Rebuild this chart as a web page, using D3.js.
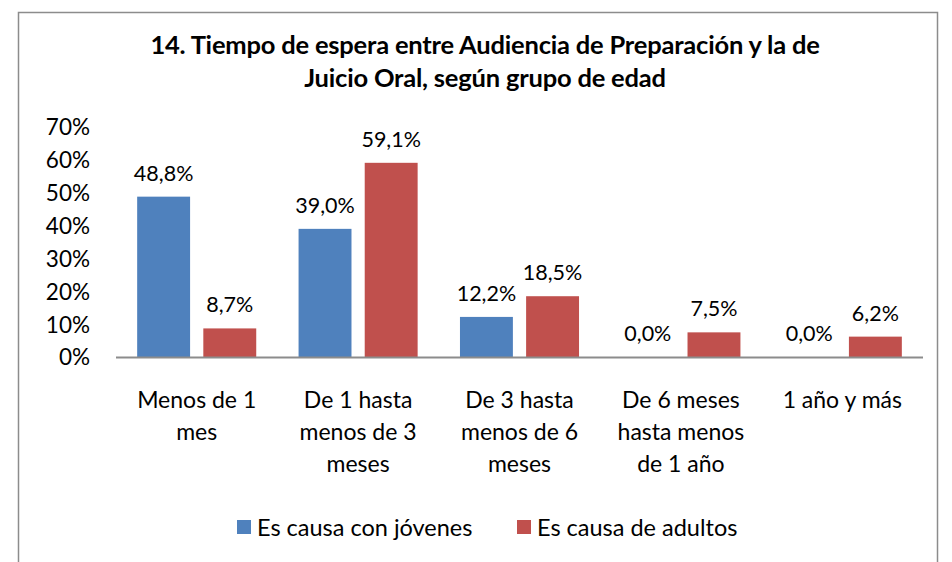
<!DOCTYPE html>
<html><head><meta charset="utf-8">
<script src="https://cdn.jsdelivr.net/npm/d3@7"></script>
<style>body{margin:0;background:#fff}svg{display:block}text{font-family:Lato,"Open Sans",sans-serif;fill:#000}</style>
</head><body><svg id="c" width="952" height="562"></svg>
<script>
const categories = [["Menos de 1","mes"],["De 1 hasta","menos de 3","meses"],["De 3 hasta","menos de 6","meses"],["De 6 meses","hasta menos","de 1 año"],["1 año y más"]];
const seriesNames = ["Es causa con jóvenes","Es causa de adultos"];
const jovenes = [48.8, 39.0, 12.2, 0.0, 0.0];
const adultos = [8.7, 59.1, 18.5, 7.5, 6.2];
const yTicks = [0,10,20,30,40,50,60,70];
const colors = ["#4F81BD","#C0504D"];
const titleLines = ["14. Tiempo de espera entre Audiencia de Preparación y la de","Juicio Oral, según grupo de edad"];

const svg = d3.select("#c");
svg.append("rect").attr("x",18.5).attr("y",12.5).attr("width",919).attr("height",600).attr("fill","#fff").attr("stroke","#8c8c8c").attr("stroke-width",1.5);

const x0 = d3.scaleBand().domain(d3.range(categories.length)).range([116,923]).paddingInner(0).paddingOuter(0);
const x1 = d3.scaleBand().domain([0,1]).range([0,x0.bandwidth()]).paddingInner(0.2).paddingOuter(0.32);
const y = d3.scaleLinear().domain([0,70]).range([357,127]);

// title
svg.append("g").selectAll("text").data(titleLines).join("text")
  .attr("x",485).attr("y",(d,i)=>54+i*33).attr("text-anchor","middle")
  .attr("font-weight","bold").attr("font-size",25.5).attr("letter-spacing",-0.2).text(d=>d);

// y axis
const ya = svg.append("g").attr("transform","translate(90,0)")
  .call(d3.axisLeft(y).tickValues(yTicks).tickSize(0).tickPadding(0).tickFormat(d=>d+"%"));
ya.select(".domain").remove();
ya.selectAll("text").attr("font-size",22.5).attr("font-family","Lato,'Open Sans',sans-serif").attr("fill","#000").attr("dy","0.35em");

const fmt = v => v.toFixed(1).replace(".",",")+"%";
const series = [jovenes, adultos];
series.forEach((vals,si)=>{
  const g = svg.append("g");
  g.selectAll("rect").data(vals).join("rect")
    .attr("x",(d,i)=>x0(i)+x1(si)).attr("width",x1.bandwidth())
    .attr("y",d=>y(d)).attr("height",d=>y(0)-y(d)).attr("fill",colors[si]);
  g.selectAll("text").data(vals).join("text")
    .attr("x",(d,i)=>x0(i)+x1(si)+x1.bandwidth()/2).attr("y",d=>y(d)-16)
    .attr("text-anchor","middle").attr("font-size",21.5).text(d=>fmt(d));
});

// baseline
svg.append("line").attr("x1",116).attr("x2",923).attr("y1",y(0)+0.5).attr("y2",y(0)+0.5).attr("stroke","#8c8c8c").attr("stroke-width",2);

// x labels
const xl = svg.append("g");
categories.forEach((lines,i)=>{
  xl.append("g").selectAll("text").data(lines).join("text")
    .attr("x",x0(i)+x0.bandwidth()/2).attr("y",(d,j)=>408+j*32)
    .attr("text-anchor","middle").attr("font-size",23).text(d=>d);
});

// legend
const lg = svg.append("g");
const lx = [237,517];
seriesNames.forEach((n,i)=>{
  lg.append("rect").attr("x",lx[i]).attr("y",520).attr("width",14).attr("height",14).attr("fill",colors[i]);
  lg.append("text").attr("x",lx[i]+20).attr("y",536).attr("font-size",23.5).text(n);
});
</script></body></html>
